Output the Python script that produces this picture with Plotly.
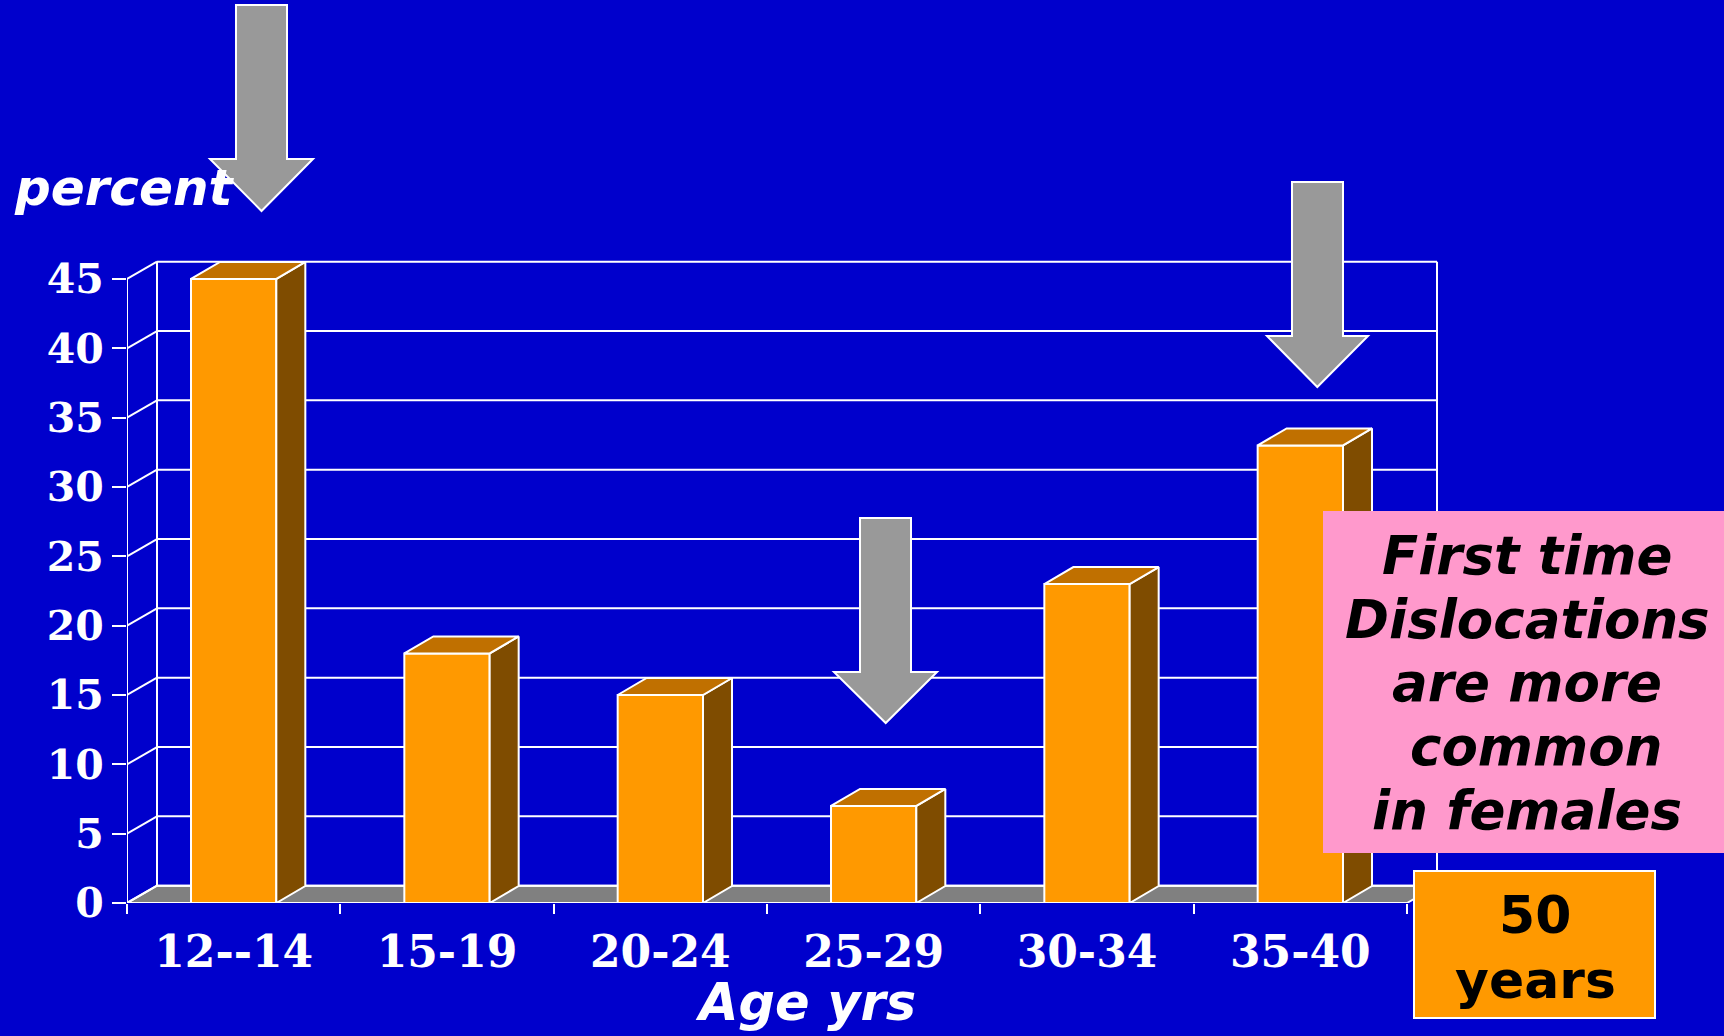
import plotly.graph_objects as go

# ---------------- data ----------------
categories = ["12--14", "15-19", "20-24", "25-29", "30-34", "35-40"]
percent_values = [45, 18, 15, 7, 23, 33]
y_ticks = [0, 5, 10, 15, 20, 25, 30, 35, 40, 45]
box_lines = ["First time", "Dislocations", "are more", "common", "in females"]
age_box_lines = ["50", "years"]

# ---------------- geometry / style ----------------
W, H = 1724, 1036
ML, MB = 127, 133              # plot area: left edge = front y axis, bottom = floor front
PXX = 213.333                  # pixels per category
PXY = 13.867                   # pixels per percent
plot_w, plot_h = W - ML, H - MB
x_range = [-0.5, -0.5 + plot_w / PXX]
y_range = [0, plot_h / PXY]

BG = "#0000CC"
FRONT = "#FF9900"
TOP = "#C07000"
SIDE = "#7F4C00"
FLOOR = "#808080"
ARROW = "#999999"
PINK = "#FF99CC"

bar_w = 0.4
bdx, bdy = 29 / PXX, 17 / PXY          # bar depth offset
wdx, wdy = 30 / PXX, 17.3 / PXY        # wall depth offset
n = len(categories)
xpos = list(range(n))
x_lo, x_hi = -0.5, n - 0.5
y_top = max(y_ticks)

fig = go.Figure()

# front faces
fig.add_trace(go.Bar(x=xpos, y=percent_values, width=bar_w,
                     marker=dict(color=FRONT, line=dict(color="white", width=2)),
                     hoverinfo="skip", showlegend=False))

# side and top faces
h = bar_w / 2
for c, v in zip(xpos, percent_values):
    xr, xl = c + h, c - h
    fig.add_trace(go.Scatter(
        x=[xr, xr, xr + bdx, xr + bdx, xr], y=[0, v, v + bdy, bdy, 0],
        mode="lines", fill="toself", fillcolor=SIDE,
        line=dict(color="white", width=2), hoverinfo="skip", showlegend=False))
    fig.add_trace(go.Scatter(
        x=[xl, xl + bdx, xr + bdx, xr, xl], y=[v, v + bdy, v + bdy, v, v],
        mode="lines", fill="toself", fillcolor=TOP,
        line=dict(color="white", width=2), hoverinfo="skip", showlegend=False))

shapes = []
wl = dict(color="white", width=2)
# floor
shapes.append(dict(type="path", xref="x", yref="y", layer="below",
                   path=f"M{x_lo},0 L{x_hi},0 L{x_hi + wdx},{wdy} L{x_lo + wdx},{wdy} Z",
                   fillcolor=FLOOR, line=wl))
# back wall grid lines and left wall diagonals
for v in y_ticks:
    shapes.append(dict(type="line", xref="x", yref="y", layer="below",
                       x0=x_lo + wdx, x1=x_hi + wdx, y0=v + wdy, y1=v + wdy, line=wl))
    shapes.append(dict(type="line", xref="x", yref="y", layer="below",
                       x0=x_lo, x1=x_lo + wdx, y0=v, y1=v + wdy, line=wl))
# back wall vertical edges
for xe in (x_lo + wdx, x_hi + wdx):
    shapes.append(dict(type="line", xref="x", yref="y", layer="below",
                       x0=xe, x1=xe, y0=wdy, y1=y_top + wdy, line=wl))
# front y axis line
shapes.append(dict(type="line", xref="x", yref="y", layer="below",
                   x0=x_lo, x1=x_lo, y0=0, y1=y_top, line=wl))


def px(xp):
    return (xp - ML) / plot_w


def py(yp):
    return (plot_h - yp) / plot_h


def arrow(sl, sr, top, hb, hl, hr, tipx, tipy):
    pts = [(sl, top), (sr, top), (sr, hb), (hr, hb), (tipx, tipy), (hl, hb), (sl, hb)]
    p = "M" + " L".join(f"{px(a):.5f},{py(b):.5f}" for a, b in pts) + " Z"
    return dict(type="path", xref="paper", yref="paper", layer="above",
                path=p, fillcolor=ARROW, line=dict(color="white", width=2))


shapes.append(arrow(236, 287, 5, 159, 210, 313, 261.5, 211))
shapes.append(arrow(860, 911, 518, 672, 834, 937, 885.7, 723))
shapes.append(arrow(1292, 1343, 182, 336, 1267, 1368, 1317.3, 387))

# text boxes
shapes.append(dict(type="rect", xref="paper", yref="paper", layer="above",
                   x0=px(1323), x1=px(1726), y0=py(853), y1=py(511),
                   fillcolor=PINK, line=dict(width=0)))
shapes.append(dict(type="rect", xref="paper", yref="paper", layer="above",
                   x0=px(1414), x1=px(1655), y0=py(1018), y1=py(871),
                   fillcolor=FRONT, line=dict(color="white", width=2)))

annotations = []
box_font = dict(family="DejaVu Sans", size=53, color="black", weight="bold", style="italic")
box_centers = [555.7, 619.7, 682.7, 746.7, 810.7]
box_x = [1527, 1527, 1527, 1536, 1527]
for t, yc, xc in zip(box_lines, box_centers, box_x):
    annotations.append(dict(text=t, xref="paper", yref="paper", x=px(xc), y=py(yc),
                            xanchor="center", yanchor="middle", showarrow=False, font=box_font))
age_font = dict(family="DejaVu Sans", size=52, color="black", weight="bold")
for t, yc in zip(age_box_lines, [915, 980]):
    annotations.append(dict(text=t, xref="paper", yref="paper", x=px(1535), y=py(yc),
                            xanchor="center", yanchor="middle", showarrow=False, font=age_font))
annotations.append(dict(text="percent", xref="paper", yref="paper", x=px(124), y=py(188),
                        xanchor="center", yanchor="middle", showarrow=False,
                        font=dict(family="DejaVu Sans", size=50, color="white",
                                  weight="bold", style="italic")))
annotations.append(dict(text="Age yrs", xref="paper", yref="paper", x=px(805), y=py(1002),
                        xanchor="center", yanchor="middle", showarrow=False,
                        font=dict(family="DejaVu Sans", size=51, color="white",
                                  weight="bold", style="italic")))

fig.update_layout(
    width=W, height=H,
    margin=dict(l=ML, r=0, t=0, b=MB, pad=0),
    paper_bgcolor=BG, plot_bgcolor="rgba(0,0,0,0)",
    shapes=shapes, annotations=annotations, showlegend=False,
    xaxis=dict(range=x_range, tickmode="array", tickvals=xpos, ticktext=categories,
               ticks="outside", ticklen=10, tickcolor="rgba(0,0,0,0)",
               showgrid=False, zeroline=False, showline=False, fixedrange=True,
               tickfont=dict(family="DejaVu Serif", size=44, color="white", weight="bold"),
               minor=dict(tickvals=[i - 0.5 for i in range(n + 1)], ticks="outside",
                          ticklen=10, tickwidth=2, tickcolor="white", showgrid=False)),
    yaxis=dict(range=y_range, tickmode="array", tickvals=y_ticks,
               ticks="outside", ticklen=14, tickwidth=2, tickcolor="white",
               showgrid=False, zeroline=False, showline=False, fixedrange=True,
               tickfont=dict(family="DejaVu Serif", size=41, color="white", weight="bold")),
)

fig.write_html("out.html", config={"displayModeBar": False},
               post_script="document.body.style.margin='0';document.body.style.overflow='hidden';")
